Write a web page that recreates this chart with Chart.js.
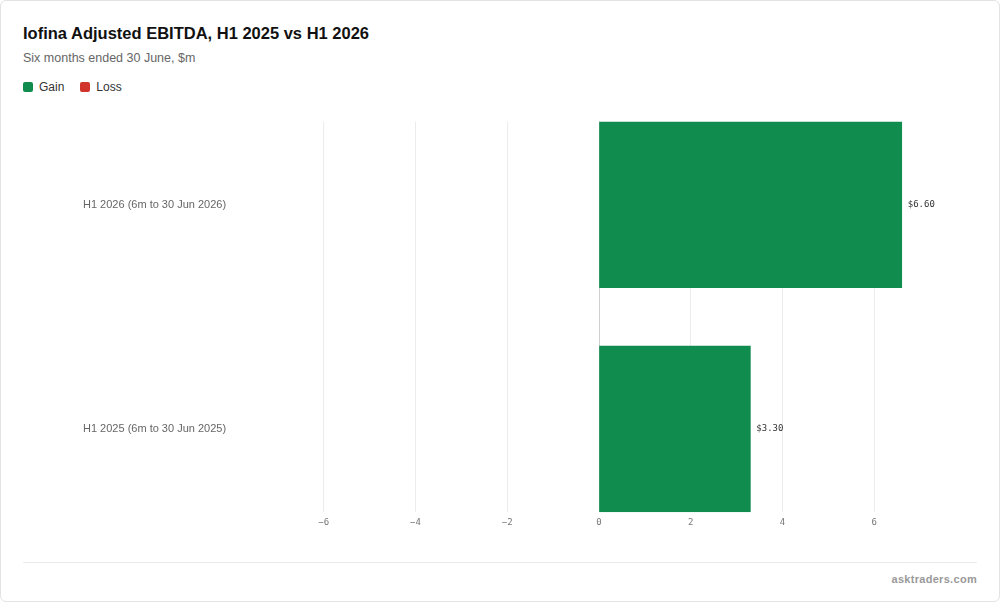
<!DOCTYPE html>
<html>
<head>
<meta charset="utf-8">
<script src="https://cdn.jsdelivr.net/npm/chart.js@4.4.1/dist/chart.umd.min.js"></script>
<style>
	html, body { margin: 0; padding: 0; background: #fff; font-family: "Liberation Sans", Arial, sans-serif; }
	.card { position: absolute; left: 0; top: 0; width: 998px; height: 600px; border: 1px solid #e3e3e3; border-radius: 6px; background: #fff; }
	h1 { position: absolute; left: 22px; top: 23px; margin: 0; font-size: 16.5px; font-weight: bold; color: #111; }
	.sub { position: absolute; left: 22px; top: 50px; font-size: 12.5px; color: #666; }
	.legend { position: absolute; left: 22px; top: 79px; font-size: 12px; color: #333; display: flex; gap: 16px; }
	.legend span { display: inline-flex; align-items: center; }
	.legend i { width: 10px; height: 10px; border-radius: 2px; display: inline-block; margin-right: 6px; }
	.chart { position: absolute; left: 22px; top: 110px; width: 954px; height: 422px; }
	.foot { position: absolute; left: 22px; right: 22px; top: 561px; border-top: 1px solid #ececec; }
	.brand { position: absolute; right: 22px; top: 572px; font-size: 11px; font-weight: bold; color: #999; letter-spacing: 0.3px; }
</style>
</head>
<body>
<div class="card">
	<h1>Iofina Adjusted EBITDA, H1 2025 vs H1 2026</h1>
	<div class="sub">Six months ended 30 June, $m</div>
	<div class="legend">
		<span><i style="background:#118c4f"></i>Gain</span>
		<span><i style="background:#d0342c"></i>Loss</span>
	</div>
	<div class="chart"><canvas id="c"></canvas></div>
	<div class="foot"></div>
	<div class="brand">asktraders.com</div>
</div>
<script>
const categories = ['H1 2026 (6m to 30 Jun 2026)', 'H1 2025 (6m to 30 Jun 2025)'];
const values = [6.6, 3.3];
const xTicks = [-6, -4, -2, 0, 2, 4, 6];
const gainColor = '#118c4f';
const lossColor = '#d0342c';

const valueLabels = {
	id: 'valueLabels',
	afterDatasetsDraw(chart) {
		const ctx = chart.ctx;
		const meta = chart.getDatasetMeta(0);
		ctx.save();
		ctx.font = '9px "DejaVu Sans Mono", monospace';
		ctx.fillStyle = '#333';
		ctx.textBaseline = 'middle';
		meta.data.forEach((bar, i) => {
			const v = values[i];
			ctx.textAlign = v >= 0 ? 'left' : 'right';
			ctx.fillText('$' + v.toFixed(2), bar.x + (v >= 0 ? 6 : -6), bar.y);
		});
		ctx.restore();
	},
};

new Chart(document.getElementById('c'), {
	type: 'bar',
	data: {
		datasets: [{
			data: values.map((v, i) => ({ x: v, y: i })),
			backgroundColor: values.map((v) => (v >= 0 ? gainColor : lossColor)),
			// bar fills 74% of the distance between two rows
			barThickness: (ctx) => {
				const s = ctx.chart.scales.y;
				return Math.abs(s.getPixelForValue(1) - s.getPixelForValue(0)) * 0.74;
			},
		}],
	},
	options: {
		indexAxis: 'y',
		responsive: true,
		maintainAspectRatio: false,
		animation: false,
		layout: { padding: { left: 60, top: 0, right: 45 } },
		plugins: { legend: { display: false }, tooltip: { enabled: false } },
		scales: {
			x: {
				type: 'linear',
				min: -7.26,
				max: 7.26,
				afterBuildTicks: (axis) => {
					axis.ticks = xTicks.map((v) => ({ value: v }));
				},
				border: { display: false },
				grid: { color: (c) => (c.tick && c.tick.value === 0 ? '#cfcfcf' : '#ececec'), drawTicks: false },
				ticks: {
					padding: 5,
					color: '#777',
					font: { family: '"DejaVu Sans Mono", monospace', size: 9 },
					callback: (v) => (v < 0 ? '\u2212' + Math.abs(v) : String(v)),
				},
			},
			y: {
				type: 'linear',
				reverse: true,
				offset: false,
				min: -0.371,
				max: 1.371,
				afterBuildTicks: (axis) => {
					axis.ticks = categories.map((c, i) => ({ value: i }));
				},
				afterFit: (axis) => { axis.width = 183; },
				border: { display: false },
				grid: { display: false },
				ticks: {
					padding: 4,
					crossAlign: 'far',
					color: '#666',
					font: { family: '"Liberation Sans", Arial', size: 11 },
					callback: (v) => categories[v] ?? '',
				},
			},
		},
	},
	plugins: [valueLabels],
});
</script>
</body>
</html>
